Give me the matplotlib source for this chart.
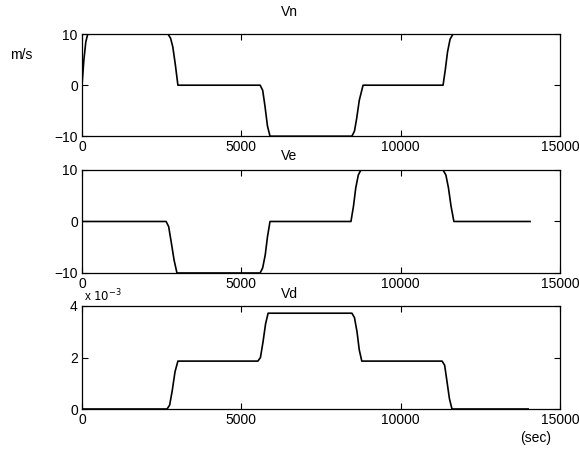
import matplotlib
matplotlib.use("Agg")
import matplotlib.pyplot as plt

# velocity profiles (north, east, down) over time
vn_t = [0, 60, 120, 180, 2700, 2780, 2850, 2930, 3010, 5590, 5670, 5740, 5820, 5900,
        8470, 8550, 8620, 8700, 8820, 11330, 11400, 11470, 11550, 11640, 14950]
vn_v = [0, 5, 8.5, 10, 10, 9.2, 7.5, 4, 0, 0, -1, -4, -8, -10,
        -10, -9, -6.5, -3, 0, 0, 3, 6.5, 9, 10, 10]

ve_t = [0, 2640, 2720, 2800, 2890, 2980, 5590, 5670, 5750, 5820, 5900,
        8440, 8520, 8590, 8670, 8750, 11330, 11420, 11500, 11580, 11670, 14060]
ve_v = [0, 0, -1, -4, -7.5, -10, -10, -9, -6.5, -3, 0,
        0, 3, 6.5, 9, 10, 10, 9, 6.5, 3, 0, 0]

vd_t = [0, 2670, 2750, 2830, 2920, 3010, 5520, 5600, 5680, 5760, 5840,
        8470, 8550, 8630, 8700, 8780, 11300, 11380, 11450, 11530, 11610, 14000]
vd_v = [0, 0, 0.15, 0.7, 1.45, 1.86, 1.86, 2.0, 2.6, 3.3, 3.72,
        3.72, 3.55, 3.0, 2.3, 1.86, 1.86, 1.7, 1.1, 0.4, 0, 0]

x_ticks = [0, 5000, 10000, 15000]

plt.rcParams["font.family"] = ["Liberation Sans", "DejaVu Sans"]
plt.rcParams["font.size"] = 10

fig = plt.figure(figsize=(5.79, 4.54), dpi=100)

rows = [
    ("Vn", vn_t, vn_v, [0.1416, 0.700, 0.8256, 0.2247], (-10, 10), [-10, 0, 10], 13),
    ("Ve", ve_t, ve_v, [0.1416, 0.3987, 0.8256, 0.2269], (-10, 10), [-10, 0, 10], 7),
    ("Vd", vd_t, [v * 1e-3 for v in vd_v], [0.1416, 0.0991, 0.8256, 0.2269],
     (0, 4e-3), [0, 2e-3, 4e-3], 6),
]

axes = []
for name, t, v, rect, ylim, yticks, tpad in rows:
    ax = fig.add_axes(rect)
    ax.plot(t, v, color="black", lw=1.2)
    ax.set_xlim(0, 15000)
    ax.set_ylim(*ylim)
    ax.set_xticks(x_ticks)
    ax.set_yticks(yticks)
    ax.tick_params(direction="in", top=True, right=True, length=4, width=0.8,
                   pad=3, labelsize=10)
    for s in ax.spines.values():
        s.set_linewidth(0.9)
    # titles sit at the figure's centre line
    ax.set_title(name, fontsize=10, pad=tpad, x=0.434)
    axes.append(ax)

# bottom panel shows values scaled by 1e-3
axes[2].set_yticklabels(["0", "2", "4"])
fig.text(0.1445, 0.330, r"x $10^{-3}$", fontsize=8.5, ha="left", va="bottom")

fig.text(0.018, 0.878, "m/s", fontsize=10, ha="left", va="center")
fig.text(0.925, 0.035, "(sec)", fontsize=10, ha="center", va="center")

fig.savefig("out.png", dpi=100)
